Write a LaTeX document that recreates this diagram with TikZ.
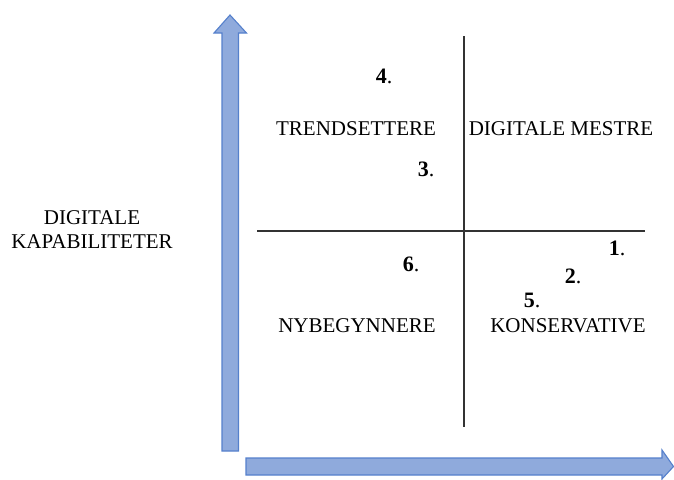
\documentclass[tikz,border=0pt]{standalone}
\usepackage{fontspec}
\setmainfont{Liberation Serif}
\definecolor{arrowfill}{HTML}{8FAADC}
\definecolor{arrowline}{HTML}{5580CC}
\definecolor{axisline}{HTML}{333333}
\tikzset{
  bigarrow/.style={fill=arrowfill, draw=arrowline, line width=1.1pt, line join=miter},
  quadline/.style={draw=axisline, line width=1.8pt},
  lbl/.style={font=\fontsize{21}{24}\selectfont, inner sep=0pt, anchor=center},
  num/.style={font=\fontsize{22}{24}\selectfont, inner sep=0pt, anchor=center},
}
\newcommand{\numtxt}[1]{\textbf{#1}.}
\begin{document}
\begin{tikzpicture}[x=1pt,y=-1pt]
\useasboundingbox (0,0) rectangle (674,479);
% vertical arrow
\path[bigarrow] (222,451) -- (222,33) -- (214,33) -- (230,15) -- (246.5,33) -- (238.5,33) -- (238.5,451) -- cycle;
% horizontal arrow
\path[bigarrow] (246,458) -- (662,458) -- (662,450) -- (673.5,466.5) -- (662,479) -- (662,475) -- (246,475) -- cycle;
% quadrant lines
\coordinate (vt) at (464,36);
\coordinate (vb) at (464,427);
\coordinate (hl) at (257,231);
\coordinate (hr) at (645,231);
\draw[quadline] (vt) -- (vb);
\draw[quadline] (hl) -- (hr);
% labels
\node[lbl] (trend) at (356,129) {TRENDSETTERE};
\node[lbl] (mestre) at (561,129) {DIGITALE MESTRE};
\node[lbl] (nyb) at (357,326) {NYBEGYNNERE};
\node[lbl] (kons) at (568,326) {KONSERVATIVE};
\node[lbl, align=center] (yaxis) at (92,230) {DIGITALE\\KAPABILITETER};
% numbers
\node[num] (n4) at (384,76) {\numtxt{4}};
\node[num] (n3) at (426,169) {\numtxt{3}};
\node[num] (n6) at (411,264) {\numtxt{6}};
\node[num] (n1) at (617,248) {\numtxt{1}};
\node[num] (n2) at (573,276) {\numtxt{2}};
\node[num] (n5) at (532,300) {\numtxt{5}};
\end{tikzpicture}
\end{document}
